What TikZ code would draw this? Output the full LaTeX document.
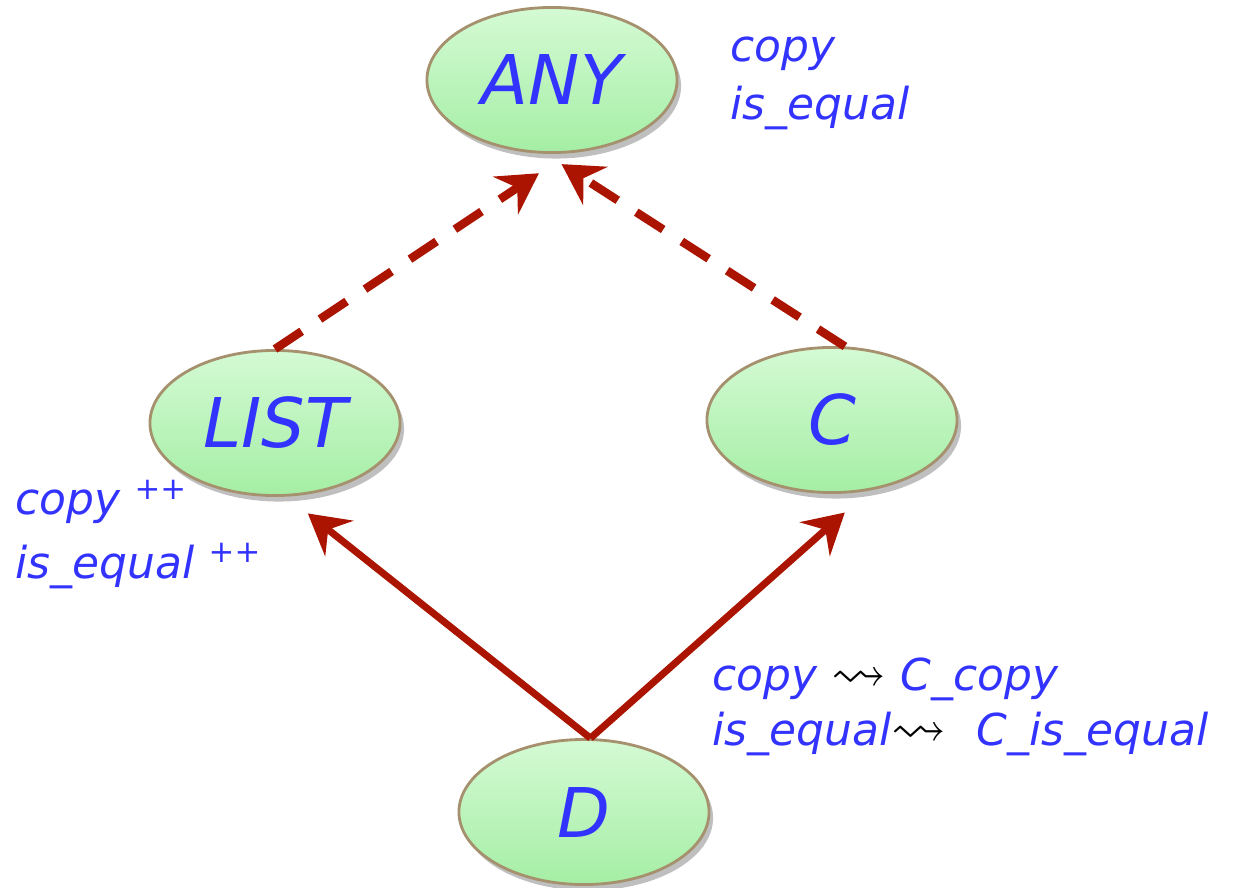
\documentclass[tikz,border=0pt]{standalone}
\usepackage{amssymb}
\usepackage{xcolor}
\usepackage{fontspec}
\setmainfont{DejaVu Sans}
\usetikzlibrary{arrows.meta,shapes.geometric,shadows}
\definecolor{classgreen}{RGB}{165, 238, 165}
\definecolor{classgreentop}{RGB}{212, 250, 212}
\definecolor{classborder}{RGB}{165, 145, 110}
\definecolor{featureblue}{RGB}{51, 51, 255}
\definecolor{inheritred}{RGB}{170, 20, 0}
\newcommand{\renames}{{\color{black}\scalebox{1.25}{$\rightsquigarrow$}}}

\begin{document}
\begin{tikzpicture}[
        x=0.01cm, y=-0.01cm,
        class/.style={ellipse, draw=classborder, line width=0.8pt, top color=classgreentop, bottom color=classgreen, minimum width=2.5cm, minimum height=1.45cm, inner sep=0pt, text=featureblue, font=\fontsize{19.5}{22}\selectfont\itshape, drop shadow={shadow xshift=0.04cm, shadow yshift=-0.06cm, fill=black, opacity=0.25}},
        feature/.style={anchor=base west, align=left, inner sep=0pt, text=featureblue, font=\fontsize{12.5}{16.5}\selectfont\itshape},
        inherit/.style={-{Stealth[length=0.4cm, width=0.45cm, inset=0.14cm]}, line width=2pt, color=inheritred},
        anyinherit/.style={inherit, line width=2.4pt, dash pattern=on 0.32cm off 0.22cm}
    ]
    \useasboundingbox (0,0) rectangle (1239,888);

    % Classes
    \node[class] (ANY) at (552, 80) {ANY};
    \node[class] (LIST) at (275, 423) {LIST};
    \node[class] (C) at (832, 420) {C};
    \node[class] (D) at (584, 812) {D};

    % Features (anchored at the last line)
    \node[feature] (anyfeat) at (730, 120) {copy\\is\_equal};
    \node[feature] (listfeat) at (15, 578) {copy \textsuperscript{++}\\[1.5pt]is\_equal \textsuperscript{++}};
    \node[feature] (dfeat) at (712, 745) {copy \renames{} C\_copy\\[-1pt]is\_equal\renames\hspace{0.3cm}C\_is\_equal};

    % Inheritance from ANY
    \draw[anyinherit, shorten >=0.36cm] (LIST.north) -- (ANY.-77);
    \draw[anyinherit, shorten >=0.19cm] (C.80) -- (ANY.-95);

    % Inheritance of D
    \draw[inherit, shorten >=0.27cm] (D.85) -- (LIST.-81);
    \draw[inherit, shorten >=0.33cm] (D.85) -- (C.-62);

\end{tikzpicture}
\end{document}
